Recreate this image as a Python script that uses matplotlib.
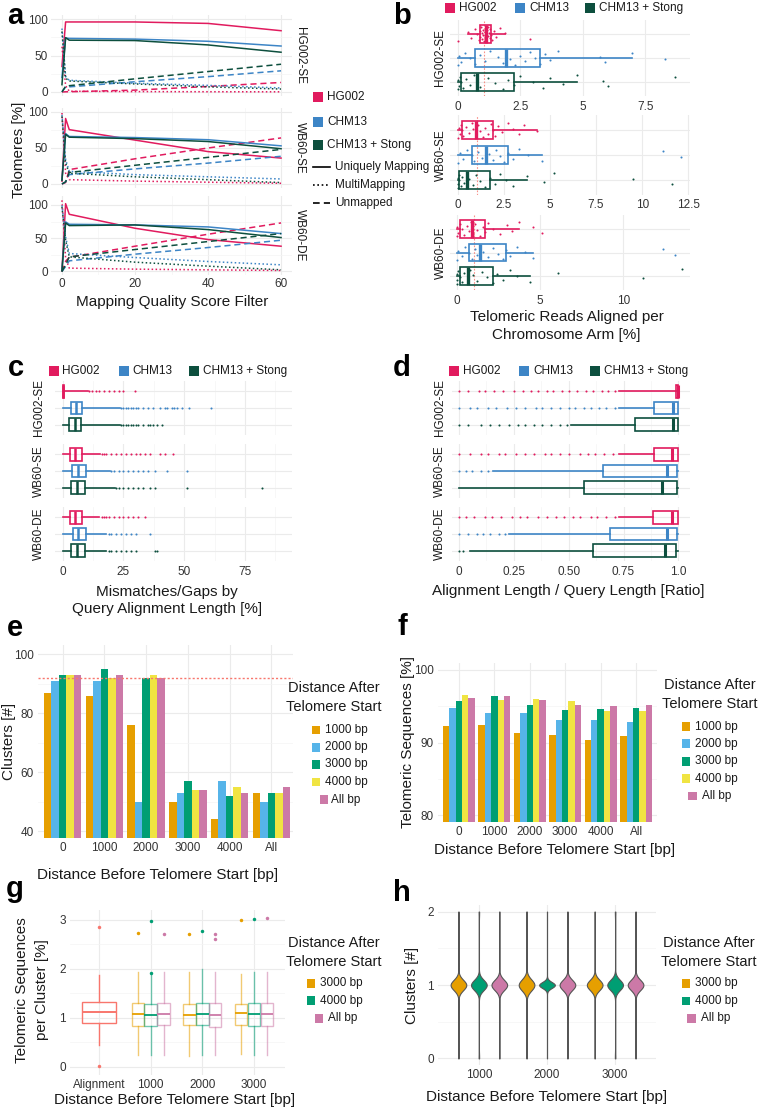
import numpy as np
import matplotlib
matplotlib.use('Agg')
import matplotlib.pyplot as plt
from matplotlib.patches import Rectangle
from matplotlib.lines import Line2D

plt.rcParams['font.family'] = ['Liberation Sans', 'DejaVu Sans']

# ---------------------------------------------------------------- data
refs = ['HG002', 'CHM13', 'CHM13 + Stong']
samples = ['HG002-SE', 'WB60-SE', 'WB60-DE']

# panel a  (rows: HG002, CHM13, CHM13 + Stong)
mq_filter = [0, 1, 2, 20, 40, 60]
hg002se_unique = [[35, 96, 96, 96, 94, 84], [20, 74, 73.5, 72.5, 69.5, 63], [10, 74.5, 71, 70.5, 64.5, 54.5]]
hg002se_multi = [[62, 8.6, 1, 0.5, 0.3, 0.2], [87, 21, 16, 12, 9, 5.5], [83, 19, 15, 11, 7, 4]]
hg002se_unmapped = [[0, 0.2, 0.3, 2.5, 7.5, 13], [0, 7, 7, 14, 21, 29], [0, 7.7, 8.6, 18, 28, 38]]
wb60se_unique = [[4, 91, 75.5, 61, 45, 36], [6, 70, 66, 64.5, 61.5, 53], [5, 69, 65, 63, 59, 49]]
wb60se_multi = [[98.6, 15, 6, 4, 2.5, 1], [96, 34, 17.6, 13, 10, 7], [94, 29, 15, 10, 6, 2]]
wb60se_unmapped = [[0, 2, 20, 35, 50, 64], [0, 3, 13, 21, 29, 38.5], [0, 3, 16, 26, 37, 48]]
wb60de_unique = [[1, 102, 86, 65, 48, 38], [2, 74.6, 71, 70, 67, 57], [1, 73, 69, 70, 63, 51]]
wb60de_multi = [[107, 20, 5, 3.5, 2.5, 1.5], [99.5, 52, 27, 21, 15, 10], [97, 47, 22, 14, 8, 2.5]]
wb60de_unmapped = [[0, 15, 21.4, 38, 56, 73], [0, 7.5, 16, 26, 36, 47], [0, 10, 22, 33, 45, 57]]

# panel b  (per sample: HG002, CHM13, CHM13 + Stong)
b_q1 = [[0.9, 0.7, 0.12], [0.25, 0.76, 0.09], [0.22, 0.72, 0.19]]
b_med = [[1.13, 1.93, 0.76], [0.97, 1.53, 0.49], [0.93, 1.38, 0.66]]
b_q3 = [[1.33, 3.27, 2.25], [1.89, 2.74, 1.77], [1.7, 2.96, 2.18]]
b_lo = [[0.42, 0.0, 0.0], [0.0, 0.0, 0.0], [0.0, 0.0, 0.0]]
b_hi = [[1.9, 6.97, 4.77], [4.27, 4.58, 3.74], [3.75, 4.6, 4.4]]
b_expected = 1.06
b_pts_hg002se = [
    [0.0, 0.42, 0.55, 0.7, 0.78, 0.85, 0.88, 0.9, 0.93, 0.96, 0.98, 1.0, 1.02, 1.05, 1.08, 1.1, 1.12,
     1.13, 1.15, 1.18, 1.2, 1.22, 1.25, 1.28, 1.3, 1.33, 1.38, 1.45, 1.55, 1.7, 1.9, 2.9],
    [0.0, 0.05, 0.15, 0.3, 0.5, 0.7, 0.9, 1.1, 1.3, 1.6, 1.8, 1.93, 2.1, 2.3, 2.5, 2.7, 2.9, 3.1,
     3.27, 3.5, 3.7, 4.0, 5.7, 5.9, 6.97, 8.3],
    [0.0, 0.0, 0.05, 0.1, 0.12, 0.2, 0.35, 0.5, 0.65, 0.76, 0.9, 1.2, 1.5, 1.8, 2.0, 2.25, 2.5, 3.0,
     3.4, 3.7, 4.2, 4.77, 5.8, 6.0, 8.7]]
b_pts_wb60se = [
    [0.0, 0.05, 0.1, 0.2, 0.25, 0.3, 0.45, 0.6, 0.75, 0.85, 0.97, 1.1, 1.2, 1.35, 1.5, 1.65, 1.8,
     1.89, 2.0, 2.2, 2.4, 2.7, 3.0, 3.3, 3.6, 4.27],
    [0.0, 0.1, 0.3, 0.5, 0.76, 0.9, 1.1, 1.3, 1.53, 1.7, 1.9, 2.1, 2.3, 2.5, 2.74, 3.0, 3.3, 3.8,
     4.58, 11.1, 12.1],
    [0.0, 0.0, 0.02, 0.05, 0.09, 0.15, 0.25, 0.35, 0.49, 0.6, 0.8, 1.0, 1.2, 1.5, 1.77, 2.0, 2.3,
     2.6, 3.0, 3.74, 4.7, 5.2, 9.5, 11.6]]
b_pts_wb60de = [
    [0.0, 0.05, 0.1, 0.22, 0.3, 0.45, 0.6, 0.75, 0.85, 0.93, 1.0, 1.1, 1.25, 1.4, 1.55, 1.7, 1.9,
     2.2, 2.6, 3.0, 3.3, 3.75, 4.6, 5.1],
    [0.0, 0.1, 0.3, 0.5, 0.72, 0.9, 1.1, 1.25, 1.38, 1.6, 1.9, 2.2, 2.5, 2.8, 2.96, 3.2, 3.6, 4.1,
     4.6, 12.4, 13.1],
    [0.0, 0.0, 0.05, 0.1, 0.19, 0.3, 0.45, 0.66, 0.8, 1.0, 1.2, 1.5, 1.8, 2.18, 2.4, 2.8, 3.2, 3.6,
     4.4, 6.05, 11.2, 13.5]]

# panel c
c_q1 = [[0.0, 3.3, 2.6], [2.9, 3.7, 3.5], [2.9, 4.1, 3.5]]
c_med = [[0.0, 5.5, 5.1], [4.9, 6.3, 5.8], [5.2, 6.2, 6.0]]
c_q3 = [[0.4, 8.1, 7.5], [8.1, 9.7, 9.3], [8.1, 9.6, 9.3]]
c_lo = [[0, 0, 0], [0, 0, 0], [0, 0, 0]]
c_hi = [[10.5, 23.6, 23.6], [15.4, 19.5, 21.5], [15.0, 18.0, 18.0]]
c_out_hg002se = [[11, 12, 13.5, 15, 17, 19, 21, 23, 25, 29.7],
                 [24, 25, 26, 27, 28, 29, 30, 31, 33, 35, 37, 40, 42, 43, 45, 46, 47, 49, 52, 61],
                 [24, 25, 26, 27, 28, 29, 30, 31, 33, 35, 36, 37, 39, 41]]
c_out_wb60se = [[16, 17, 18, 20, 22, 24, 26, 28, 30, 32, 34, 36, 40, 42, 45.5],
                [20, 21, 23, 25, 27, 29, 31, 33, 35, 38, 43, 51],
                [22, 23, 25, 27, 29, 31, 33, 36, 38, 51, 82]]
c_out_wb60de = [[16, 17, 18, 19, 21, 23, 25, 27, 29, 31, 34],
                [19, 20, 22, 24, 26, 28, 30, 36],
                [19, 20, 22, 24, 26, 28, 30, 38, 39]]

# panel d
d_q1 = [[0.99, 0.89, 0.80], [0.89, 0.655, 0.57], [0.886, 0.69, 0.61]]
d_med = [[0.998, 0.977, 0.975], [0.97, 0.947, 0.925], [0.97, 0.947, 0.94]]
d_q3 = [[1.0, 1.0, 1.0], [0.997, 0.995, 0.993], [0.997, 0.993, 0.99]]
d_lo = [[0.73, 0.73, 0.51], [0.73, 0.155, 0.0], [0.73, 0.23, 0.05]]
d_hi = [[1.0, 1.0, 1.0], [1.0, 1.0, 1.0], [1.0, 1.0, 1.0]]
d_out_hg002se = [[0.0, 0.04, 0.09, 0.12, 0.16, 0.2, 0.25, 0.29, 0.33, 0.36, 0.4, 0.43, 0.47, 0.5, 0.54, 0.58, 0.61, 0.65, 0.68, 0.71],
                 [0.0, 0.05, 0.08, 0.13, 0.17, 0.22, 0.26, 0.3, 0.35, 0.38, 0.42, 0.46, 0.5, 0.53, 0.57, 0.6, 0.64, 0.67, 0.71],
                 [0.0, 0.04, 0.1, 0.14, 0.18, 0.23, 0.27, 0.3, 0.34, 0.38, 0.42, 0.46, 0.49]]
d_out_wb60se = [[0.0, 0.05, 0.1, 0.13, 0.18, 0.21, 0.26, 0.3, 0.34, 0.39, 0.42, 0.46, 0.5, 0.55, 0.59, 0.62, 0.66, 0.7],
                [0.0, 0.03, 0.06, 0.1, 0.13],
                []]
d_out_wb60de = [[0.0, 0.03, 0.07, 0.12, 0.15, 0.19, 0.24, 0.28, 0.31, 0.36, 0.4, 0.44, 0.48, 0.52, 0.55, 0.6, 0.63, 0.67, 0.71],
                [0.0, 0.04, 0.08, 0.11, 0.14, 0.18, 0.21],
                [0.0, 0.02]]

# panel e / f
before_groups = ['0', '1000', '2000', '3000', '4000', 'All']
after_labels = ['1000 bp', '2000 bp', '3000 bp', '4000 bp', 'All bp']
e_1000 = [87, 86, 76, 50, 44, 53]
e_2000 = [91, 91, 50, 53, 57, 50]
e_3000 = [93, 95, 92, 57, 52, 53]
e_4000 = [93, 92, 93, 54, 55, 53]
e_all = [93, 93, 92, 54, 53, 55]
e_reference = 92
f_1000 = [92.3, 92.4, 91.3, 91.0, 90.4, 90.9]
f_2000 = [94.8, 94.1, 94.1, 93.1, 93.1, 92.85]
f_3000 = [95.75, 96.4, 95.2, 94.5, 94.7, 94.8]
f_4000 = [96.6, 95.9, 96.0, 95.8, 94.4, 94.4]
f_all = [96.15, 96.4, 95.85, 95.25, 95.0, 95.25]

# panel g
g_groups = ['Alignment', '1000', '2000', '3000']
g_align = dict(q1=0.89, med=1.11, q3=1.32, lo=0.45, hi=1.88, out=[0.02, 2.85])
g_q1 = [[0.84, 0.84, 0.85], [0.85, 0.85, 0.81], [0.85, 0.83, 0.84]]
g_med = [[1.08, 1.06, 1.07], [1.06, 1.08, 1.05], [1.1, 1.07, 1.08]]
g_q3 = [[1.31, 1.27, 1.30], [1.29, 1.31, 1.31], [1.29, 1.31, 1.31]]
g_lo = [[0.24, 0.24, 0.24], [0.21, 0.23, 0.23], [0.25, 0.23, 0.23]]
g_hi = [[1.93, 1.9, 1.93], [1.93, 1.99, 1.93], [1.9, 1.93, 1.94]]
g_out = [[[2.73], [1.91, 2.97], [2.72]], [[2.72], [2.78], [2.6, 2.72]], [[3.0], [3.01], [3.03]]]

# panel h  (cluster count tallies: clusters = 0 / 1 / 2)
h_groups = ['1000', '2000', '3000']
h_n0 = [[3, 3, 3], [3, 1, 3], [3, 3, 3]]
h_n1 = [[90, 92, 91], [89, 94, 92], [90, 91, 92]]
h_n2 = [[3, 3, 3], [4, 1, 3], [3, 3, 3]]

# ---------------------------------------------------------------- style
REF_COLS = ['#E11B5E', '#3D85C6', '#0D4F3E']
OKABE = ['#E69F00', '#56B4E9', '#009E73', '#F0E442', '#CC79A7']
G_COLS = ['#E69F00', '#009E73', '#CC79A7']
ALIGN_COL = '#F8766D'
GRID = '#EBEBEB'
GRID_MINOR = '#F4F4F4'
TICKC = '#333333'
TXT = '#1A1A1A'

W, H = 762, 1111
fig = plt.figure(figsize=(W / 100, H / 100), dpi=100)
fig.patch.set_facecolor('white')


def add_ax(l, t, r, b):
    return fig.add_axes([l / W, 1 - b / H, (r - l) / W, (b - t) / H])


def ftext(x, y, s, **kw):
    kw.setdefault('ha', 'center')
    kw.setdefault('va', 'center')
    kw.setdefault('color', TXT)
    fig.text(x / W, 1 - y / H, s, **kw)


def fsquare(x, y, color, size=10):
    fig.add_artist(Rectangle(((x - size / 2) / W, 1 - (y + size / 2) / H), size / W, size / H,
                             transform=fig.transFigure, facecolor=color, edgecolor='none'))


def fline(x0, x1, y, ls, color='black', lw=1.2):
    fig.add_artist(Line2D([x0 / W, x1 / W], [1 - y / H, 1 - y / H], transform=fig.transFigure,
                          color=color, ls=ls, lw=lw))


def style(ax, xgrid=True, ygrid=True, pad=2):
    for s in ax.spines.values():
        s.set_visible(False)
    ax.tick_params(which='both', length=0, labelsize=8, labelcolor=TICKC, pad=pad)
    ax.set_axisbelow(True)
    if xgrid:
        ax.xaxis.grid(True, which='major', color=GRID, lw=0.8)
        ax.xaxis.grid(True, which='minor', color=GRID_MINOR, lw=0.5)
    if ygrid:
        ax.yaxis.grid(True, which='major', color=GRID, lw=0.8)
        ax.yaxis.grid(True, which='minor', color=GRID_MINOR, lw=0.5)


def hbox(ax, pos, q1, med, q3, lo, hi, color, width, lw=1.1, medlw=2.0, fliers=(), fms=1.6, alpha=1.0,
         orientation='horizontal', medcolor=None):
    st = dict(q1=q1, med=med, q3=q3, whislo=lo, whishi=hi, fliers=list(fliers))
    kw = dict(positions=[pos], widths=width, showfliers=True, showcaps=False, patch_artist=True,
              manage_ticks=False,
              boxprops=dict(facecolor='none', edgecolor=color, lw=lw, alpha=alpha),
              medianprops=dict(color=medcolor or color, lw=medlw, solid_capstyle='butt'),
              whiskerprops=dict(color=color, lw=lw, alpha=alpha),
              flierprops=dict(marker='o', markersize=fms, markerfacecolor=color, markeredgecolor='none'))
    try:
        ax.bxp([st], orientation=orientation, **kw)
    except TypeError:
        ax.bxp([st], vert=(orientation == 'vertical'), **kw)


# ---------------------------------------------------------------- panel a
a_unique = [hg002se_unique, wb60se_unique, wb60de_unique]
a_multi = [hg002se_multi, wb60se_multi, wb60de_multi]
a_unmapped = [hg002se_unmapped, wb60se_unmapped, wb60de_unmapped]
a_boxes = [(51, 15.4, 292, 95.6), (51, 108.4, 292, 187.6), (51, 196, 292, 275)]
a_ylims = [(-5, 105), (-5, 105), (-5.3, 113.5)]
LS_MULTI = (0, (1, 1.6))
LS_UNMAP = (0, (4, 2.5))
for i in range(3):
    ax = add_ax(*a_boxes[i])
    style(ax)
    for j in range(3):
        ax.plot(mq_filter, a_unmapped[i][j], color=REF_COLS[j], lw=1.1, ls=LS_UNMAP)
        ax.plot(mq_filter, a_multi[i][j], color=REF_COLS[j], lw=1.1, ls=LS_MULTI)
        ax.plot(mq_filter, a_unique[i][j], color=REF_COLS[j], lw=1.1, ls='-')
    ax.set_xlim(-3, 63)
    ax.set_ylim(*a_ylims[i])
    ax.set_xticks([0, 20, 40, 60])
    ax.set_xticks([10, 30, 50], minor=True)
    ax.set_yticks([0, 50, 100])
    ax.set_yticks([25, 75], minor=True)
    if i < 2:
        ax.set_xticklabels([])
    ax.tick_params(labelsize=8.5)
    cy = (a_boxes[i][1] + a_boxes[i][3]) / 2
    ftext(300, cy, samples[i], rotation=-90, fontsize=8.5)

ftext(19, 150, 'Telomeres [%]', rotation=90, fontsize=11)
ftext(172, 302, 'Mapping Quality Score Filter', fontsize=11)
# legend a
for j, y in enumerate([97, 122.3, 145]):
    fsquare(318.3, y, REF_COLS[j])
    ftext(327, y, refs[j], ha='left', fontsize=8.5)
for y, ls, lab in [(166.7, '-', 'Uniquely Mapping'), (185, LS_MULTI, 'MultiMapping'), (203.3, LS_UNMAP, 'Unmapped')]:
    fline(313, 330, y, ls)
    ftext(335, y, lab, ha='left', fontsize=8.5)

# ---------------------------------------------------------------- panel b
b_boxes = [(450, 19.6, 690, 96.4), (450, 115, 690, 195), (450, 214.6, 690, 290.4)]
b_xlims = [(-0.31, 9.29), (-0.42, 12.59), (-0.4, 14.0)]
b_ticks = [[0, 2.5, 5, 7.5], [0, 2.5, 5, 7.5, 10, 12.5], [0, 5, 10]]
b_ticklabels = [['0', '2.5', '5', '7.5'], ['0', '2.5', '5', '7.5', '10', '12.5'], ['0', '5', '10']]
b_pts = [b_pts_hg002se, b_pts_wb60se, b_pts_wb60de]
rowpos = [3, 2, 1]
for i in range(3):
    ax = add_ax(*b_boxes[i])
    style(ax, pad=3)
    ax.axvline(b_expected, color=ALIGN_COL, lw=0.8, ls=(0, (1.5, 1.5)), alpha=0.8, zorder=1)
    for j in range(3):
        hbox(ax, rowpos[j], b_q1[i][j], b_med[i][j], b_q3[i][j], b_lo[i][j], b_hi[i][j],
             REF_COLS[j], 0.75, lw=1.2, medlw=2.4)
        vals = np.array(b_pts[i][j])
        jit = ((np.arange(len(vals)) * 0.618034) % 1 - 0.5) * 0.62
        ax.scatter(vals, rowpos[j] + jit, s=2.2, color=REF_COLS[j], lw=0, zorder=4)
    ax.set_xlim(*b_xlims[i])
    ax.set_ylim(0.4, 3.6)
    ax.set_yticks([1, 2, 3])
    ax.set_yticklabels([])
    ax.set_xticks(b_ticks[i])
    ax.set_xticklabels(b_ticklabels[i])
    ax.tick_params(labelsize=8.5)
    cy = (b_boxes[i][1] + b_boxes[i][3]) / 2
    ftext(440.5, cy, samples[i], rotation=90, fontsize=8.5)
ftext(566.7, 317, 'Telomeric Reads Aligned per', fontsize=11)
ftext(566.7, 335, 'Chromosome Arm [%]', fontsize=11)
for j, (sx, tx) in enumerate([(450, 459), (520, 529), (590, 599.3)]):
    fsquare(sx, 8.3, REF_COLS[j])
    ftext(tx, 8.3, refs[j], ha='left', fontsize=8.5)

# ---------------------------------------------------------------- panels c, d
cd_rows = [(381.3, 434.7), (444.3, 497.7), (507.3, 560.7)]
c_out = [c_out_hg002se, c_out_wb60se, c_out_wb60de]
d_out = [d_out_hg002se, d_out_wb60se, d_out_wb60de]
for i in range(3):
    t, b = cd_rows[i]
    axc = add_ax(55, t, 292, b)
    axd = add_ax(452, t, 690, b)
    for ax in (axc, axd):
        style(ax, pad=4)
    for j in range(3):
        hbox(axc, rowpos[j], c_q1[i][j], c_med[i][j], c_q3[i][j], c_lo[i][j], c_hi[i][j],
             REF_COLS[j], 0.75, lw=1.2, medlw=1.8, fliers=c_out[i][j], fms=1.5)
        hbox(axd, rowpos[j], d_q1[i][j], d_med[i][j], d_q3[i][j], d_lo[i][j], d_hi[i][j],
             REF_COLS[j], 0.75, lw=1.2, medlw=2.2, fliers=d_out[i][j], fms=1.5)
    for ax in (axc, axd):
        ax.set_ylim(0.4, 3.6)
        ax.set_yticks([1, 2, 3])
        ax.set_yticklabels([])
    axc.set_xlim(-3.2, 94.4)
    axc.set_xticks([0, 25, 50, 75])
    axc.set_xticks([12.5, 37.5, 62.5, 87.5], minor=True)
    axd.set_xlim(-0.032, 1.053)
    axd.set_xticks([0, 0.25, 0.5, 0.75, 1.0])
    axd.set_xticks([0.125, 0.375, 0.625, 0.875], minor=True)
    if i < 2:
        axc.set_xticklabels([])
        axd.set_xticklabels([])
    else:
        axc.set_xticklabels(['0', '25', '50', '75'])
        axd.set_xticklabels(['0', '0.25', '0.50', '0.75', '1.0'])
    axc.tick_params(labelsize=8.5)
    axd.tick_params(labelsize=8.5)
    cy = (t + b) / 2
    ftext(39, cy, samples[i], rotation=90, fontsize=8.5)
    ftext(440, cy, samples[i], rotation=90, fontsize=8.5)
ftext(166.7, 591.7, 'Mismatches/Gaps by', fontsize=11)
ftext(166.7, 609.5, 'Query Alignment Length [%]', fontsize=11)
ftext(568.3, 591, 'Alignment Length / Query Length [Ratio]', fontsize=11)
for j, (sx, tx) in enumerate([(54.3, 62.3), (124.3, 132.7), (194.3, 203.3)]):
    fsquare(sx, 371, REF_COLS[j])
    ftext(tx, 371, refs[j], ha='left', fontsize=8.5)
for j, (sx, tx) in enumerate([(454.3, 463.3), (524.3, 533.3), (595, 604)]):
    fsquare(sx, 371, REF_COLS[j])
    ftext(tx, 371, refs[j], ha='left', fontsize=8.5)


# ---------------------------------------------------------------- panels e, f
def bar_panel(box, series, ylim, yticks, yminor):
    ax = add_ax(*box)
    style(ax, pad=3)
    x = np.arange(len(before_groups))
    for k, vals in enumerate(series):
        ax.bar(x + (k - 2) * 0.18, vals, width=0.18, color=OKABE[k], edgecolor='none', zorder=2)
    ax.set_ylim(*ylim)
    ax.set_xticks(x)
    ax.set_xticklabels(before_groups)
    ax.set_yticks(yticks)
    ax.set_yticks(yminor, minor=True)
    ax.tick_params(labelsize=8.5)
    return ax


axe = bar_panel((38, 645, 293, 838), [e_1000, e_2000, e_3000, e_4000, e_all], (37.7, 103.2),
                [40, 60, 80, 100], [50, 70, 90])
axe.set_xlim(-0.59, 5.52)
axe.axhline(e_reference, color=ALIGN_COL, lw=1.0, ls=(0, (1.5, 1.5)), zorder=3)
axf = bar_panel((438, 663, 657, 822), [f_1000, f_2000, f_3000, f_4000, f_all], (79.1, 100.96),
                [80, 90, 100], [85, 95])
axf.set_xlim(-0.59, 5.59)

ftext(9, 741, 'Clusters [#]', rotation=90, fontsize=11)
ftext(158, 875, 'Distance Before Telomere Start [bp]', fontsize=11)
ftext(408, 742, 'Telomeric Sequences [%]', rotation=90, fontsize=11)
ftext(555, 850, 'Distance Before Telomere Start [bp]', fontsize=11)


def after_legend(cx, ty, sx, tx, sx_all, tx_all, ys, labels, cols):
    ftext(cx, ty, 'Distance After', fontsize=10.5)
    ftext(cx, ty + 18.7, 'Telomere Start', fontsize=10.5)
    for k, (y, lab, c) in enumerate(zip(ys, labels, cols)):
        last = (k == len(ys) - 1)
        fsquare(sx_all if last else sx, y, c, size=8.5)
        ftext(tx_all if last else tx, y, lab, ha='left', fontsize=8.5)


after_legend(334, 688, 315.8, 325, 323.8, 331, [730, 747.3, 764.3, 782, 799.7], after_labels, OKABE)
after_legend(709.5, 685, 685.8, 695, 692.5, 701.7, [726.7, 743.7, 761.3, 778.7, 796], after_labels, OKABE)

# ---------------------------------------------------------------- panel g
axg = add_ax(70, 910, 285, 1075)
style(axg, pad=3)
hbox(axg, 0, g_align['q1'], g_align['med'], g_align['q3'], g_align['lo'], g_align['hi'], ALIGN_COL,
     0.66, lw=1.0, medlw=1.4, fliers=g_align['out'], fms=2.5, orientation='vertical')
for gi in range(3):
    for k in range(3):
        hbox(axg, gi + 1 + (k - 1) * 0.25, g_q1[gi][k], g_med[gi][k], g_q3[gi][k], g_lo[gi][k], g_hi[gi][k],
             G_COLS[k], 0.24, lw=1.0, medlw=1.3, fliers=g_out[gi][k], fms=2.5, alpha=0.55,
             orientation='vertical')
axg.set_xlim(-0.56, 3.6)
axg.set_ylim(-0.17, 3.2)
axg.set_xticks(range(4))
axg.set_xticklabels(g_groups)
axg.set_yticks([0, 1, 2, 3])
axg.set_yticks([0.5, 1.5, 2.5], minor=True)
axg.tick_params(labelsize=8.5)
ftext(22, 990, 'Telomeric Sequences', rotation=90, fontsize=11)
ftext(42, 990, 'per Cluster [%]', rotation=90, fontsize=11)
ftext(175, 1100, 'Distance Before Telomere Start [bp]', fontsize=11)
g_labels = ['3000 bp', '4000 bp', 'All bp']
after_legend(334, 943, 310.8, 320, 319.2, 328, [983.3, 1000.7, 1018.3], g_labels, G_COLS)

# ---------------------------------------------------------------- panel h
axh = add_ax(438, 905, 656, 1065)
style(axh, pad=3)
for gi in range(3):
    for k in range(3):
        data = np.repeat([0.0, 1.0, 2.0], [h_n0[gi][k], h_n1[gi][k], h_n2[gi][k]])
        vp = axh.violinplot([data], positions=[gi + (k - 1) * 0.3], widths=0.23, bw_method=0.28,
                            showextrema=False, showmedians=False, points=400)
        for body in vp['bodies']:
            body.set_facecolor(G_COLS[k])
            body.set_edgecolor('#555555')
            body.set_linewidth(0.8)
            body.set_alpha(1)
axh.set_xlim(-0.6, 2.6)
axh.set_ylim(-0.09, 2.09)
axh.set_xticks(range(3))
axh.set_xticklabels(h_groups)
axh.set_yticks([0, 1, 2])
axh.set_yticks([0.5, 1.5], minor=True)
axh.tick_params(labelsize=8.5)
ftext(411.7, 985, 'Clusters [#]', rotation=90, fontsize=11)
ftext(546.7, 1097, 'Distance Before Telomere Start [bp]', fontsize=11)
after_legend(709, 943.3, 685.8, 695, 691.7, 701, [983.3, 1001, 1018.3], g_labels, G_COLS)

# ---------------------------------------------------------------- panel letters
for lab, x, y in [('a', 15, 24.5), ('b', 402, 24.5), ('c', 16, 376), ('d', 402, 376),
                  ('e', 15, 636), ('f', 402, 635), ('g', 15, 897), ('h', 402, 901)]:
    ftext(x, y, lab, fontsize=21, fontweight='bold', va='baseline', color='black')

fig.savefig('out.png', dpi=100, facecolor='white')
